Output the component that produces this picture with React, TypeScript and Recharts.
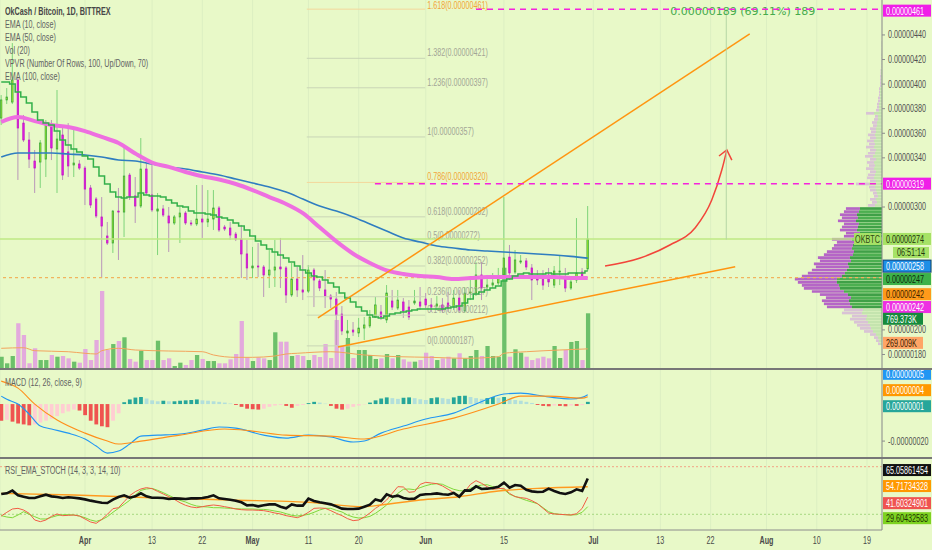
import React from 'react';
import {
  ComposedChart,
  Bar,
  Line,
  XAxis,
  YAxis,
  ReferenceLine,
  ReferenceArea,
  CartesianGrid,
  Cell,
} from 'recharts';

const FONT = '"Liberation Sans", Arial, sans-serif';
const BG = '#e8f9c8';
const SQUEEZE = 0.72;

// days counted from Apr 1; first candle is Mar 17
const FIRST_DAY = -15;
const X_DOMAIN: [number, number] = [-15.22, 142.68];
const TIME_TICKS = [0, 12, 21, 30, 40, 49, 61, 75, 91, 103, 112, 122, 131, 140];
const TIME_LABELS = ['Apr', '13', '22', 'May', '11', '20', 'Jun', '15', 'Jul', '13', '22', 'Aug', '10', '19'];

// prices in satoshi (1e-8 BTC)
const PRICE_TICKS = [180, 200, 300, 340, 360, 380, 400, 420, 440];

const OPEN = [
  372.4, 387.1, 385.4, 403.3, 368.3, 354.5, 337.4, 336.6, 339.0, 366.7,
  347.2, 358.6, 344.8, 334.2, 335.0, 331.7, 315.5, 306.5, 291.9, 276.4,
  270.7, 296.7, 295.9, 326.0, 309.0, 300.8, 330.9, 309.8, 296.7, 298.4,
  292.7, 287.0, 291.9, 295.1, 287.0, 286.2, 290.2, 287.8, 290.2, 299.2,
  283.7, 282.9, 278.0, 274.0, 261.8, 250.4, 252.0, 251.2, 244.7, 248.7,
  251.2, 250.4, 228.4, 241.4, 232.5, 231.6, 248.7, 239.8, 232.5, 227.6,
  225.1, 212.9, 197.5, 199.9, 197.5, 201.5, 203.2, 210.5, 214.6, 208.1,
  223.5, 217.8, 222.7, 218.6, 221.9, 222.7, 225.1, 220.3, 219.4, 220.3,
  221.9, 218.6, 225.9, 215.4, 230.0, 230.0, 244.7, 234.9, 236.5, 238.2,
  244.7, 259.3, 247.1, 255.2, 256.1, 250.4, 241.4, 243.0, 244.7, 236.5,
  247.1, 242.2, 234.1, 240.6, 247.1, 249.6,
];
const HIGH = [
  391.1, 396.8, 433.4, 405.0, 374.9, 361.0, 346.4, 354.5, 370.8, 370.8,
  395.2, 364.3, 368.3, 365.1, 338.2, 333.4, 317.9, 308.1, 308.1, 287.8,
  297.6, 315.5, 350.5, 327.7, 324.4, 356.1, 335.8, 335.8, 311.4, 301.6,
  300.0, 293.5, 300.0, 296.7, 289.4, 317.9, 317.9, 313.8, 313.8, 300.8,
  285.4, 287.8, 279.7, 285.4, 273.2, 267.5, 270.7, 252.8, 265.0, 273.2,
  274.8, 252.0, 254.4, 251.2, 260.9, 252.8, 250.4, 241.4, 248.7, 229.2,
  230.8, 219.4, 208.1, 206.4, 209.7, 210.5, 216.2, 226.8, 220.3, 236.5,
  232.5, 232.5, 225.9, 224.3, 232.5, 234.9, 230.0, 225.9, 227.6, 225.9,
  230.8, 232.5, 232.5, 234.9, 242.2, 255.2, 255.2, 244.7, 246.3, 250.4,
  308.1, 269.1, 265.0, 260.9, 258.5, 253.6, 248.7, 248.7, 250.4, 252.0,
  260.9, 250.4, 242.2, 291.0, 250.4, 300.8,
];
const LOW = [
  366.7, 383.8, 383.8, 322.0, 352.9, 331.7, 311.4, 315.5, 324.4, 338.2,
  311.4, 322.0, 324.4, 324.4, 330.1, 301.6, 299.2, 291.0, 242.2, 269.1,
  262.6, 256.9, 275.6, 305.7, 287.0, 299.2, 309.8, 295.9, 260.9, 291.9,
  263.4, 285.4, 270.7, 285.4, 284.5, 284.5, 274.8, 283.7, 281.3, 279.7,
  280.5, 273.2, 272.3, 242.2, 240.6, 242.2, 243.0, 226.8, 234.1, 234.9,
  234.1, 221.9, 226.8, 226.8, 224.3, 230.0, 218.6, 231.6, 217.8, 217.8,
  187.7, 195.8, 193.4, 195.0, 194.2, 191.8, 201.5, 209.7, 208.1, 205.6,
  216.2, 216.2, 209.7, 208.1, 220.3, 216.2, 217.8, 214.6, 216.2, 213.8,
  214.6, 216.2, 213.8, 213.8, 224.3, 227.6, 224.3, 232.5, 234.1, 236.5,
  242.2, 240.6, 245.5, 253.6, 248.7, 224.3, 236.5, 232.5, 234.9, 234.1,
  236.5, 230.8, 232.5, 238.2, 240.6, 247.9,
];
const CLOSE = [
  387.1, 389.5, 403.3, 364.3, 354.5, 339.0, 331.7, 352.1, 366.7, 348.0,
  355.3, 326.0, 333.4, 335.8, 331.7, 314.6, 301.6, 292.7, 284.5, 270.7,
  296.7, 295.9, 325.2, 308.1, 300.8, 330.9, 311.4, 297.6, 298.4, 293.5,
  287.0, 291.9, 295.1, 287.0, 286.2, 290.2, 287.8, 290.2, 299.2, 281.3,
  282.1, 277.2, 274.0, 261.8, 250.4, 252.0, 251.2, 244.7, 248.7, 251.2,
  249.6, 228.4, 241.4, 232.5, 230.8, 248.7, 240.6, 234.1, 227.6, 225.1,
  212.1, 199.1, 199.1, 198.3, 201.5, 204.0, 210.5, 220.3, 210.5, 230.0,
  218.6, 224.3, 215.4, 210.5, 223.5, 219.4, 220.3, 218.6, 221.1, 216.2,
  217.8, 225.9, 216.2, 230.0, 230.8, 244.7, 234.1, 236.5, 238.2, 243.0,
  258.5, 246.3, 256.9, 256.1, 251.2, 240.6, 240.6, 236.5, 239.0, 247.9,
  247.9, 234.1, 239.0, 246.3, 242.2, 274.0,
];
// volume in thousands
const VOLUME = [
  159, 66, 169, 628, 464, 66, 277, 112, 112, 183,
  159, 169, 136, 89, 75, 267, 112, 394, 1083, 253,
  337, 380, 432, 127, 89, 243, 112, 112, 384, 112,
  136, 28, 75, 42, 112, 183, 127, 98, 98, 66,
  66, 122, 197, 661, 150, 98, 150, 136, 112, 502,
  370, 370, 169, 183, 169, 112, 183, 155, 337, 141,
  675, 309, 422, 141, 253, 253, 183, 127, 136, 197,
  136, 183, 122, 89, 89, 112, 215, 169, 112, 136,
  159, 136, 207, 136, 169, 253, 169, 309, 169, 159,
  1410, 159, 263, 215, 159, 112, 136, 159, 136, 309,
  141, 253, 366, 380, 112, 769.373,
];
const EMA10 = [
  401.7, 401.7, 400.1, 393.6, 389.5, 384.6, 377.3, 370.8, 368.3, 366.7,
  361.8, 354.5, 350.5, 347.2, 344.8, 341.5, 339.0, 332.6, 325.2, 318.7,
  312.2, 308.1, 307.3, 308.1, 308.1, 311.4, 309.8, 308.9, 308.9, 308.1,
  305.7, 303.3, 300.8, 300.0, 296.7, 295.1, 295.1, 294.3, 293.5, 291.9,
  291.0, 289.4, 287.0, 284.5, 281.3, 276.4, 272.3, 269.1, 265.8, 263.4,
  260.9, 258.5, 255.2, 252.0, 248.7, 246.3, 243.9, 243.0, 240.6, 238.2,
  234.9, 230.0, 225.9, 222.7, 218.6, 215.4, 212.1, 210.5, 209.7, 211.3,
  212.9, 213.8, 214.6, 215.4, 216.2, 217.0, 217.0, 217.0, 217.0, 217.0,
  217.8, 218.6, 219.4, 221.9, 225.1, 229.2, 230.8, 232.5, 234.1, 235.7,
  239.8, 241.4, 243.9, 245.5, 246.3, 245.5, 245.5, 245.5, 246.3, 245.5,
  245.5, 245.5, 246.3, 246.3, 246.3, 247.9,
];
// [candle index, value]
const EMA50: [number, number][] = [
  [0, 369.2], [3, 373.2], [6, 369.9], [9, 366.7], [12, 365.1], [15, 361.8], [18, 357.0],
  [21, 352.1], [24, 343.5], [27, 336.2], [30, 332.6], [33, 328.5], [36, 325.0], [39, 322.4],
  [42, 318.7], [45, 313.8], [48, 308.1], [51, 302.5], [54, 295.0], [57, 283.5], [60, 272.0],
  [63, 262.0], [66, 254.5], [69, 248.5], [72, 245.5], [75, 243.9], [78, 243.0], [81, 241.4],
  [84, 242.2], [87, 243.0], [90, 243.0], [93, 243.0], [96, 243.0], [99, 243.0], [102, 242.2],
  [105, 242.2],
];
const EMA100: [number, number][] = [
  [0, 340.7], [3, 343.9], [6, 343.9], [9, 343.9], [12, 343.1], [15, 342.3], [18, 340.7],
  [21, 338.2], [24, 337.4], [27, 335.0], [30, 332.6], [33, 330.9], [36, 328.5], [39, 326.0],
  [42, 322.8], [45, 319.5], [48, 316.3], [51, 312.2], [54, 306.5], [57, 300.8], [60, 296.7],
  [63, 291.9], [66, 286.2], [69, 280.5], [72, 274.8], [75, 271.5], [78, 268.3], [81, 266.6],
  [84, 265.0], [87, 264.2], [90, 263.4], [93, 262.6], [96, 261.8], [99, 260.9], [102, 259.8],
  [105, 258.4],
];
const VOL_MA: [number, number][] = [
  [0, 277], [4, 285], [6, 243], [12, 229], [15, 207], [17, 197], [18, 243], [21, 277],
  [24, 253], [30, 239], [36, 229], [38, 183], [42, 150], [45, 150], [49, 169], [51, 197],
  [53, 207], [59, 229], [65, 183], [71, 159], [77, 150], [83, 136], [89, 159], [90, 207],
  [94, 229], [100, 253], [105, 269],
];

// MACD (12, 26, 9), in 1e-8
const MACD: [number, number][] = [
  [0, 4.3], [1, 2.6], [3, 0], [5, -5.4], [7, -11.9], [9, -13.5], [12, -15.7], [15, -18.9],
  [17, -22.7], [19, -26.5], [21, -25.4], [23, -21.6], [25, -17.3], [28, -16.8], [32, -16.2],
  [36, -14.1], [39, -12.4], [42, -13.0], [47, -16.8], [51, -18.4], [55, -16.8], [59, -17.8],
  [63, -20.5], [65, -20.0], [68, -15.7], [72, -11.9], [76, -8.1], [81, -4.9], [85, 0],
  [90, 5.4], [93, 5.9], [98, 3.8], [102, 2.7], [104, 3.6], [105, 5.0],
];
const SIGNAL: [number, number][] = [
  [0, 12.4], [3, 8.6], [6, 0], [10, -8.6], [15, -15.7], [19, -20.0], [21, -21.6], [25, -20.0],
  [32, -16.8], [40, -13.5], [45, -14.6], [51, -16.8], [59, -17.3], [65, -18.9], [72, -13.5],
  [81, -7.6], [89, 0], [93, 4.3], [98, 4.3], [104, 3.2], [105, 4.0],
];
const HIST = [
  -9, -8.5, -9.5, -10.5, -11, -11.5, -11, -10, -9, -8,
  -6.5, -5, -4, -3, -3.5, -6, -9, -11, -12, -12.5,
  -9, -5, 1, 2.5, 3.5, 3.8, 3, 2, 1.5, 1.8,
  1.5, 1.5, 1.8, 2, 2.2, 2.5, 2, 1.8, 1.5, 1.2,
  0.8, 0.3, -0.5, -1.5, -2.5, -2.8, -3, -2.5, -1.5, -0.8,
  -0.5, -1, -2, -1, -0.5, 0.5, 1.2, 0.8, 0.2, -1,
  -2.5, -3, -2.5, -1.5, -0.8, -0.2, 0.8, 2, 3, 3.6,
  3.2, 2.8, 3.4, 3.6, 3.2, 2.6, 2.2, 3.2, 3.6, 3.2,
  2.8, 3.6, 4.4, 4.5, 3.8, 3.2, 2.8, 3.2, 3.8, 3.4,
  3.8, 3.0, 2.2, 1.8, 1.2, 0.6, -0.5, -1, -1.2, -0.8,
  -1, -1.2, -0.8, -1, -0.6, 1.2,
];

// RSI_EMA_STOCH (14, 3, 3, 14, 10)
const RSI = [
  45.6, 46.4, 49.8, 43.9, 42.2, 40.5, 40.5, 42.6, 44.7, 42.6,
  41.8, 40.5, 41.4, 40.9, 40.1, 38.8, 37.2, 35.9, 34.6, 34.2,
  38.4, 41.8, 43.9, 40.9, 42.6, 46.4, 42.6, 40.9, 40.9, 40.5,
  39.3, 40.1, 39.7, 39.3, 40.1, 40.1, 40.5, 41.8, 43.9, 40.1,
  39.3, 38.4, 37.2, 35.1, 31.3, 31.7, 30.0, 31.3, 32.5, 32.5,
  29.6, 27.5, 32.5, 30.9, 30.9, 39.7, 36.8, 35.1, 33.8, 32.5,
  30.0, 27.1, 26.7, 26.7, 27.1, 29.6, 32.1, 38.8, 36.8, 45.2,
  42.2, 43.5, 40.5, 39.3, 39.7, 44.3, 45.2, 45.6, 46.4, 45.2,
  44.7, 46.8, 42.2, 50.2, 49.8, 55.2, 51.9, 52.3, 53.1, 54.8,
  59.9, 53.6, 56.9, 56.1, 51.0, 48.9, 48.1, 48.5, 52.3, 49.4,
  46.8, 45.6, 47.7, 51.5, 49.4, 65.06,
];
const RSI_EMA: [number, number][] = [
  [0, 46.4], [13, 44.3], [27, 40.9], [41, 38.0], [55, 35.1], [65, 29.6], [68, 31.7],
  [75, 38.0], [82, 42.2], [89, 49.4], [96, 52.7], [105, 54.72],
];
const STOCH_K = [
  17.8, 22.5, 26.7, 27.5, 25.4, 21.2, 12.8, 10.7, 12.8, 17.4,
  20.4, 18.3, 18.7, 19.1, 17.8, 14.1, 10.3, 8.6, 13.6, 19.9,
  27.1, 28.3, 35.9, 43.5, 48.5, 51.9, 53.6, 52.3, 48.9, 45.6,
  42.2, 38.8, 34.6, 31.3, 29.2, 28.3, 29.6, 30.9, 31.7, 30.9,
  29.6, 28.3, 26.7, 25.8, 25.4, 25.4, 25.0, 24.6, 23.3, 21.6,
  20.4, 18.3, 17.0, 15.7, 18.3, 22.5, 27.5, 27.9, 27.5, 24.6,
  21.2, 18.3, 14.5, 12.0, 12.8, 16.6, 21.6, 27.5, 32.1, 38.0,
  46.4, 54.8, 54.4, 47.7, 48.5, 57.7, 60.3, 59.4, 58.6, 55.7,
  51.5, 47.3, 41.0, 48.5, 57.7, 62.4, 59.0, 54.8, 51.5, 52.3,
  52.7, 46.4, 42.2, 41.0, 40.1, 37.2, 33.4, 27.5, 21.6, 20.4,
  19.9, 19.5, 19.1, 20.8, 27.5, 41.6,
];
const STOCH_D = [
  18.3, 16.6, 15.7, 19.1, 23.3, 19.9, 17.0, 14.1, 14.1, 16.2,
  18.3, 19.5, 19.5, 19.1, 17.8, 15.7, 12.8, 11.1, 13.2, 17.0,
  22.5, 27.5, 32.5, 37.6, 44.3, 50.2, 51.9, 52.7, 50.2, 47.3,
  43.9, 40.5, 37.6, 35.5, 32.5, 30.4, 29.6, 29.2, 28.3, 28.3,
  27.9, 27.5, 27.1, 26.7, 26.7, 26.7, 26.2, 26.2, 25.4, 24.1,
  22.9, 20.8, 18.7, 17.8, 18.7, 19.9, 22.5, 25.4, 27.5, 27.5,
  25.0, 22.9, 19.1, 16.6, 15.3, 15.7, 17.4, 21.2, 26.2, 31.7,
  39.7, 46.4, 51.5, 51.9, 51.0, 53.6, 56.1, 57.8, 58.6, 57.8,
  54.4, 51.5, 49.8, 49.4, 52.7, 55.2, 56.9, 57.3, 54.8, 53.1,
  51.5, 45.2, 42.6, 40.1, 37.6, 35.5, 33.4, 28.3, 23.3, 20.8,
  19.9, 19.5, 19.1, 19.5, 22.5, 29.6,
];

// Fibonacci extension drawing
const FIB_LEVELS = ['0', '0.146', '0.236', '0.382', '0.5', '0.618', '0.786', '1', '1.236', '1.382', '1.618'];
const FIB_PRICES = [187, 212, 227, 252, 272, 292, 320, 357, 397, 421, 461];
const FIB_GOLD = ['0.786', '1.618'];
const FIB_DAYS: [number, number] = [39.7, 60.9];

// drawings, as [day, price]
const TREND_UPPER: [number, number][] = [[41.7, 209.7], [119.0, 440.8]];
const TREND_LOWER: [number, number][] = [[45.3, 186.1], [116.4, 251.4]];
const ARROW: [number, number][] = [
  [93.1, 252.0], [99.4, 258.5], [104.7, 269.1], [109.2, 282.9], [112.2, 305.7], [114.0, 330.1], [114.9, 346.4],
];
const ARROW_HEAD: [number, number][] = [[113.5, 341.5], [114.9, 346.4], [115.8, 338.2]];
const TARGETS = [
  { price: 461, fromDay: 70 },
  { price: 319, fromDay: 51.9 },
];
const MEASURE = { day: 114.8, from: 273.5, to: 461, text: '0.00000189 (69.11%) 189' };

// VPVR rows (2.5 sat each), volume in 10K
const VP_LOW = 187.5;
const VP_STEP = 2.5;
const VALUE_AREA: [number, number] = [217.5, 300];
const VP_UP = [
  20, 30, 40, 60, 90, 110, 120, 140, 160, 150,
  200, 190, 300, 320, 330, 310, 340, 380, 420, 430,
  450, 450, 400, 370, 350, 330, 340, 310, 320, 290,
  280, 300, 290, 270, 300, 230, 220, 250, 240, 230,
  260, 240, 250, 230, 220, 70, 50, 60, 40, 50,
  60, 70, 130, 60, 80, 70, 60, 80, 70, 80,
  60, 90, 70, 60, 80, 70, 80, 60, 70, 60,
  60, 50, 50, 40, 40, 80, 30, 30, 30, 20,
  20, 20, 20, 20, 10, 10, 10, 10, 10, 10,
  5, 5, 5, 5, 5, 3, 3, 3, 3,
];
const VP_DOWN = [
  20, 30, 40, 60, 90, 110, 130, 140, 160, 150,
  200, 190, 250, 260, 270, 250, 280, 320, 360, 370,
  390, 420, 400, 370, 350, 330, 340, 310, 320, 290,
  270, 200, 190, 180, 200, 150, 140, 170, 160, 150,
  180, 160, 170, 150, 140, 70, 50, 60, 40, 40,
  60, 60, 130, 60, 70, 70, 60, 80, 60, 70,
  60, 80, 70, 60, 80, 60, 70, 60, 70, 50,
  60, 40, 50, 40, 30, 80, 30, 20, 20, 20,
  20, 10, 10, 10, 10, 10, 10, 10, 5, 5,
  5, 5, 5, 5, 5, 2, 2, 2, 2,
];
const VP_WIDTH_DAYS = 15.6;

// colours
const BODY_UP = '#a3ef2a';
const EDGE_UP = '#35a13a';
const BODY_DOWN = '#e01ee0';
const EDGE_DOWN = '#c516c5';
const WICK_UP = '#7fd47a';
const WICK_DOWN = '#b996b9';
const VOL_UP = '#6cc06a';
const VOL_DOWN = '#e3aadd';
const AXIS = '#8c8c8c';
const GRID = '#dcefc2';

const candles = OPEN.map((o, i) => ({
  d: FIRST_DAY + i,
  open: o,
  high: HIGH[i],
  low: LOW[i],
  close: CLOSE[i],
  range: [LOW[i], HIGH[i]],
  vol: VOLUME[i],
  ema10: EMA10[i],
}));
const byCandle = (arr: [number, number][]) => arr.map(([k, v]) => ({ d: FIRST_DAY + k, v }));
const byDay = (arr: [number, number][]) => arr.map(([d, v]) => ({ d, v }));
const macdRows = HIST.map((h, i) => ({ d: FIRST_DAY + i, hist: h }));
const rsiRows = RSI.map((r, i) => ({ d: FIRST_DAY + i, rsi: r, k: STOCH_K[i], dd: STOCH_D[i] }));
const vpMax = Math.max(...VP_UP.map((u, i) => u + VP_DOWN[i]));

const fmt8 = (v: number) => (v / 1e8).toFixed(8);

function SText({ x, y, text, size = 10, fill = '#555', weight = 400, anchor = 'start', squeeze = SQUEEZE, family = FONT }: any) {
  return (
    <text
      transform={`translate(${x},${y}) scale(${squeeze},1)`}
      fontSize={size}
      fill={fill}
      fontWeight={weight}
      textAnchor={anchor}
      dominantBaseline="central"
      fontFamily={family}
    >
      {text}
    </text>
  );
}

function PriceTick(props: any) {
  const { x, y, payload } = props;
  return (
    <g>
      <line x1={x} x2={x + 3} y1={y} y2={y} stroke={AXIS} />
      <SText x={x + 6} y={y} text={fmt8(payload.value)} fill="#505050" />
    </g>
  );
}

function TimeTick(props: any) {
  const { x, y, payload } = props;
  const label = TIME_LABELS[TIME_TICKS.indexOf(payload.value)] ?? '';
  const month = isNaN(Number(label));
  return <SText x={x} y={y + 11} text={label} anchor="middle" weight={month ? 700 : 400} fill="#4a4a4a" />;
}

function Candle(props: any) {
  const { x, y, width, height, payload } = props;
  if (x == null || y == null || !payload) return null;
  const { open, close, high, low } = payload;
  const up = close >= open;
  const top = Math.min(y, y + height);
  const h = Math.abs(height);
  const span = high - low || 1;
  const toY = (v: number) => top + ((high - v) / span) * h;
  const cx = x + width / 2;
  const bTop = toY(Math.max(open, close));
  const bBot = toY(Math.min(open, close));
  return (
    <g>
      <line x1={cx} x2={cx} y1={top} y2={top + h} stroke={up ? WICK_UP : WICK_DOWN} strokeWidth={1} />
      <rect
        x={x}
        y={bTop}
        width={width}
        height={Math.max(1, bBot - bTop)}
        fill={up ? BODY_UP : BODY_DOWN}
        stroke={up ? EDGE_UP : EDGE_DOWN}
        strokeWidth={0.7}
      />
    </g>
  );
}

type Tag = { text: string; bg: string; fg: string; dy?: number; border?: string; w?: number };

// box on the right price scale, placed from the line's y
function tag({ text, bg, fg, dy = 0, border, w = 48 }: Tag) {
  return (p: any) => {
    const vb = p.viewBox;
    if (!vb) return null;
    const x = vb.x + vb.width + 1;
    const y = vb.y + dy;
    return (
      <g>
        <rect x={x} y={y - 6} width={w} height={12} fill={bg} stroke={border ?? 'none'} strokeWidth={1} />
        <SText x={x + 3} y={y + 0.5} text={text} fill={fg} size={10} />
      </g>
    );
  };
}

function lastPriceTag(p: any) {
  const vb = p.viewBox;
  if (!vb) return null;
  const right = vb.x + vb.width;
  const y = vb.y;
  return (
    <g>
      <rect x={right - 28} y={y - 6} width={27} height={12} fill="#a6e266" />
      <SText x={right - 14.5} y={y + 0.5} text="OKBTC" fill="#2f4a14" anchor="middle" size={10} />
      <rect x={right + 1} y={y - 6} width={48} height={12} fill="#a6e266" />
      <SText x={right + 4} y={y + 0.5} text={fmt8(274)} fill="#22350c" size={10} />
      <rect x={right + 11} y={y + 8} width={36} height={11} fill="#a6e266" />
      <SText x={right + 29} y={y + 13.5} text="06:51:14" fill="#22350c" anchor="middle" size={10} />
    </g>
  );
}

function fibLabel(level: string, price: number) {
  const gold = FIB_GOLD.includes(level);
  return (p: any) => {
    const vb = p.viewBox;
    if (!vb) return null;
    return (
      <SText
        x={vb.x + vb.width + 2}
        y={Math.max(6, vb.y - 5.5)}
        text={`${level}(${fmt8(price)})`}
        fill={gold ? '#f2a53a' : '#a3a596'}
        size={10}
      />
    );
  };
}

function measureLabel(p: any) {
  const vb = p.viewBox;
  if (!vb) return null;
  return (
    <text
      x={vb.x - 56}
      y={vb.y + 2}
      fontSize={11}
      fill="#45ab4c"
      dominantBaseline="central"
      fontFamily='"DejaVu Sans", sans-serif'
    >
      {MEASURE.text}
    </text>
  );
}

const legendStyle: React.CSSProperties = {
  position: 'absolute',
  left: 5,
  fontFamily: FONT,
  fontSize: 10,
  lineHeight: '12.9px',
  color: '#626262',
  transform: `scaleX(${SQUEEZE})`,
  transformOrigin: 'left top',
  whiteSpace: 'nowrap',
  pointerEvents: 'none',
};

const noDots = { dot: false, activeDot: false, isAnimationActive: false } as const;

function MainPane() {
  return (
    <ComposedChart width={932} height={368} data={candles} margin={{ top: 0, right: 0, bottom: 0, left: 0 }}>
      <CartesianGrid horizontal={false} stroke={GRID} />
      <XAxis dataKey="d" type="number" domain={X_DOMAIN} allowDataOverflow ticks={TIME_TICKS} hide />
      <XAxis xAxisId="v" dataKey="d" type="number" domain={X_DOMAIN} allowDataOverflow hide />
      <YAxis
        orientation="right"
        width={50}
        domain={[169.0, 468.44]}
        allowDataOverflow
        ticks={PRICE_TICKS}
        interval={0}
        tick={<PriceTick />}
        tickLine={false}
        tickSize={0}
        tickMargin={0}
        axisLine={{ stroke: AXIS }}
      />
      <YAxis yAxisId="v" domain={[0, 5174]} allowDataOverflow hide />

      {VP_UP.map((u, i) => {
        const lo = VP_LOW + i * VP_STEP;
        const inVa = lo >= VALUE_AREA[0] && lo < VALUE_AREA[1];
        const upLen = (u / vpMax) * VP_WIDTH_DAYS;
        const dnLen = (VP_DOWN[i] / vpMax) * VP_WIDTH_DAYS;
        const right = X_DOMAIN[1];
        return (
          <React.Fragment key={`vp${i}`}>
            <ReferenceArea
              x1={right - upLen - dnLen}
              x2={right - upLen}
              y1={lo + 0.15}
              y2={lo + VP_STEP - 0.15}
              fill={inVa ? '#b565c6' : '#d9c3d5'}
              fillOpacity={1}
              stroke="none"
              ifOverflow="visible"
            />
            <ReferenceArea
              x1={right - upLen}
              x2={right}
              y1={lo + 0.15}
              y2={lo + VP_STEP - 0.15}
              fill={inVa ? (i % 2 ? '#4caf50' : '#3fa047') : '#c4e4ae'}
              fillOpacity={1}
              stroke="none"
              ifOverflow="visible"
            />
          </React.Fragment>
        );
      })}

      {FIB_LEVELS.map((lvl, i) => (
        <ReferenceLine
          key={`fib${lvl}`}
          segment={[
            { x: FIB_DAYS[0], y: FIB_PRICES[i] },
            { x: FIB_DAYS[1], y: FIB_PRICES[i] },
          ]}
          stroke={FIB_GOLD.includes(lvl) ? '#f3d79c' : '#c9d5b6'}
          strokeWidth={1}
          label={fibLabel(lvl, FIB_PRICES[i])}
        />
      ))}

      <ReferenceLine y={242.5} stroke="#f1b45e" strokeDasharray="3 3" strokeWidth={1.2}
        label={tag({ text: fmt8(242), bg: '#ff9a1a', fg: '#3a2400', dy: 16.5 })} />
      <ReferenceLine y={274} stroke="#bfe985" strokeWidth={1.5} label={lastPriceTag} />

      <Bar xAxisId="v" yAxisId="v" dataKey="vol" barSize={4.3} isAnimationActive={false}>
        {candles.map((c, i) => (
          <Cell key={`v${i}`} fill={c.close >= c.open ? VOL_UP : VOL_DOWN} />
        ))}
      </Bar>
      <Line xAxisId="v" yAxisId="v" data={byCandle(VOL_MA)} dataKey="v" type="monotone" stroke="#f3a45d"
        strokeWidth={1} {...noDots} />

      <Line data={byCandle(EMA100)} dataKey="v" type="monotone" stroke="#2f7dc0" strokeWidth={1.6} {...noDots} />
      <Line data={byCandle(EMA50)} dataKey="v" type="monotone" stroke="#ee6fe0" strokeWidth={4} {...noDots} />
      <Line dataKey="ema10" type="step" stroke="#33b04a" strokeWidth={1.5} {...noDots} />

      <Bar dataKey="range" barSize={3.6} shape={<Candle />} isAnimationActive={false} />

      <Line data={byDay(TREND_UPPER)} dataKey="v" type="linear" stroke="#ff9510" strokeWidth={1.5} {...noDots} />
      <Line data={byDay(TREND_LOWER)} dataKey="v" type="linear" stroke="#ff9510" strokeWidth={1.5} {...noDots} />
      <Line data={byDay(ARROW)} dataKey="v" type="monotone" stroke="#f2453a" strokeWidth={1.5} {...noDots} />
      <Line data={byDay(ARROW_HEAD)} dataKey="v" type="linear" stroke="#f2453a" strokeWidth={1.5} {...noDots} />

      <ReferenceLine
        segment={[
          { x: MEASURE.day, y: MEASURE.from },
          { x: MEASURE.day, y: MEASURE.to },
        ]}
        stroke="#b5d6a6"
        strokeWidth={1}
        label={measureLabel}
      />
      {TARGETS.map((t) => (
        <ReferenceLine
          key={`t${t.price}`}
          segment={[
            { x: t.fromDay, y: t.price },
            { x: X_DOMAIN[1], y: t.price },
          ]}
          stroke="#f423dc"
          strokeWidth={1.5}
          strokeDasharray="6 5"
          label={tag({ text: fmt8(t.price), bg: '#f01ee8', fg: '#ffffff', dy: t.price > 400 ? 1.5 : 0 })}
        />
      ))}

      <ReferenceLine y={258.4} stroke="transparent"
        label={tag({ text: fmt8(258), bg: '#1e8fe6', fg: '#ffffff', dy: 8, border: '#0b3f7a' })} />
      <ReferenceLine y={247.9} stroke="transparent"
        label={tag({ text: fmt8(247), bg: '#3db249', fg: '#0d2a0d', dy: 8 })} />
      <ReferenceLine y={242.2} stroke="transparent"
        label={tag({ text: fmt8(242), bg: '#ee2fe3', fg: '#ffffff', dy: 29 })} />
      <ReferenceLine yAxisId="v" xAxisId="v" y={769.373} stroke="transparent"
        label={tag({ text: '769.373K', bg: '#168a3c', fg: '#ffffff', dy: 5.5, w: 40 })} />
      <ReferenceLine yAxisId="v" xAxisId="v" y={269.009} stroke="transparent"
        label={tag({ text: '269.009K', bg: '#ffa566', fg: '#3a2000', dy: -6, w: 40 })} />
    </ComposedChart>
  );
}

function MacdPane() {
  return (
    <ComposedChart width={932} height={87} data={macdRows} margin={{ top: 0, right: 0, bottom: 0, left: 0 }}>
      <CartesianGrid horizontal={false} stroke={GRID} />
      <XAxis dataKey="d" type="number" domain={X_DOMAIN} allowDataOverflow ticks={TIME_TICKS} hide />
      <YAxis
        orientation="right"
        width={50}
        domain={[-28.6, 18.4]}
        allowDataOverflow
        ticks={[-20]}
        tick={<PriceTick />}
        tickLine={false}
        tickSize={0}
        tickMargin={0}
        axisLine={{ stroke: AXIS }}
      />
      <Bar dataKey="hist" barSize={3.8} isAnimationActive={false}>
        {HIST.map((h, i) => {
          const prev = i > 0 ? HIST[i - 1] : h;
          const fill = h >= 0 ? (h >= prev ? '#26a69a' : '#b2dfdb') : h <= prev ? '#ef5350' : '#ffcdd2';
          return <Cell key={`h${i}`} fill={fill} />;
        })}
      </Bar>
      <Line data={byCandle(MACD)} dataKey="v" type="monotone" stroke="#2196f3" strokeWidth={1.1} {...noDots} />
      <Line data={byCandle(SIGNAL)} dataKey="v" type="monotone" stroke="#ff8f1a" strokeWidth={1.1} {...noDots} />
      <ReferenceLine y={5} stroke="transparent" label={tag({ text: fmt8(5), bg: '#2196f3', fg: '#ffffff', dy: -21 })} />
      <ReferenceLine y={4} stroke="transparent" label={tag({ text: fmt8(4), bg: '#ff9800', fg: '#ffffff', dy: -6.5 })} />
      <ReferenceLine y={1} stroke="transparent" label={tag({ text: fmt8(1), bg: '#26a69a', fg: '#ffffff', dy: 4 })} />
    </ComposedChart>
  );
}

function RsiPane() {
  return (
    <ComposedChart width={932} height={91} data={rsiRows} margin={{ top: 0, right: 0, bottom: 0, left: 0 }}>
      <CartesianGrid horizontal={false} stroke={GRID} />
      <XAxis
        dataKey="d"
        type="number"
        domain={X_DOMAIN}
        allowDataOverflow
        ticks={TIME_TICKS}
        interval={0}
        tick={<TimeTick />}
        tickLine={false}
        tickSize={0}
        tickMargin={0}
        height={20}
        axisLine={{ stroke: AXIS }}
      />
      <YAxis orientation="right" width={50} domain={[0.2, 89.7]} allowDataOverflow ticks={[]} tick={false}
        axisLine={{ stroke: AXIS }} />
      <ReferenceLine y={80} stroke="#f2a486" strokeDasharray="2 2" />
      <ReferenceLine y={20} stroke="#a6d880" strokeDasharray="2 2" />
      <Line dataKey="dd" type="linear" stroke="#7fd83a" strokeWidth={1} {...noDots} />
      <Line dataKey="k" type="linear" stroke="#f25c45" strokeWidth={1} {...noDots} />
      <Line data={byCandle(RSI_EMA)} dataKey="v" type="monotone" stroke="#ff9a1f" strokeWidth={1.4} {...noDots} />
      <Line dataKey="rsi" type="linear" stroke="#111111" strokeWidth={2.6} {...noDots} />
      <ReferenceLine y={65.06} stroke="transparent"
        label={tag({ text: '65.05861454', bg: '#111111', fg: '#ffffff', dy: -8.5 })} />
      <ReferenceLine y={54.72} stroke="transparent"
        label={tag({ text: '54.71734328', bg: '#ff9800', fg: '#ffffff', dy: -0.7 })} />
      <ReferenceLine y={41.6} stroke="transparent"
        label={tag({ text: '41.60324901', bg: '#ef5350', fg: '#ffffff', dy: 6 })} />
      <ReferenceLine y={29.6} stroke="transparent"
        label={tag({ text: '29.60432583', bg: '#7ed321', fg: '#1d3300', dy: 11.5 })} />
    </ComposedChart>
  );
}

export default function App() {
  return (
    <div style={{ position: 'absolute', left: 0, top: 0, width: 932, height: 550, background: BG, overflow: 'hidden' }}>
      <div style={{ position: 'absolute', left: 0, top: 0 }}>
        <MainPane />
      </div>
      <div style={{ position: 'absolute', left: 0, top: 368, width: 932, height: 2, background: '#777' }} />
      <div style={{ position: 'absolute', left: 0, top: 370 }}>
        <MacdPane />
      </div>
      <div style={{ position: 'absolute', left: 0, top: 457, width: 932, height: 2, background: '#777' }} />
      <div style={{ position: 'absolute', left: 0, top: 459 }}>
        <RsiPane />
      </div>

      <div style={{ ...legendStyle, top: 6.3 }}>
        <div style={{ color: '#474747', fontWeight: 700 }}>OkCash / Bitcoin, 1D, BITTREX</div>
        <div>EMA (10, close)</div>
        <div>EMA (50, close)</div>
        <div>Vol (20)</div>
        <div>VPVR (Number Of Rows, 100, Up/Down, 70)</div>
        <div>EMA (100, close)</div>
      </div>
      <div style={{ ...legendStyle, top: 376.5 }}>MACD (12, 26, close, 9)</div>
      <div style={{ ...legendStyle, top: 464.5 }}>RSI_EMA_STOCH (14, 3, 3, 14, 10)</div>
    </div>
  );
}
